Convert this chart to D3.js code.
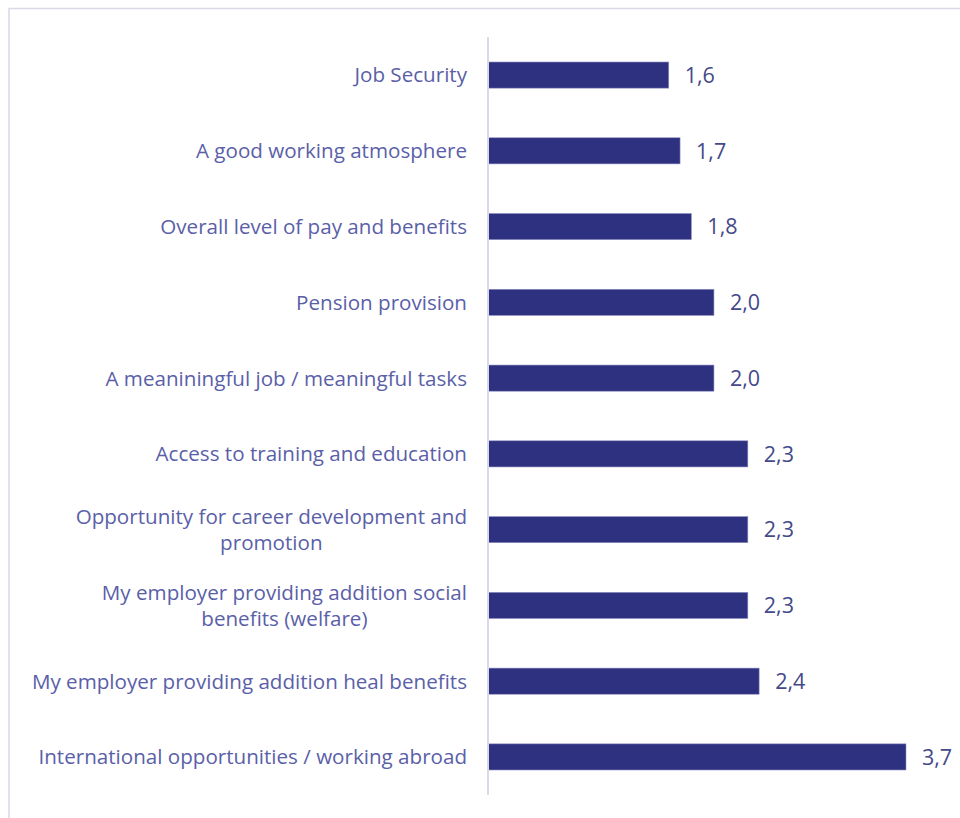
<!DOCTYPE html>
<html>
<head>
<meta charset="utf-8">
<script src="https://cdn.jsdelivr.net/npm/d3@7"></script>
<style>
  html, body { margin: 0; padding: 0; background: #fff; }
  svg { display: block; }
</style>
</head>
<body>
<svg id="chart" width="960" height="818"></svg>
<script>
// Factors rated, top to bottom, with their average scores
const categories = [
  "Job Security",
  "A good working atmosphere",
  "Overall level of pay and benefits",
  "Pension provision",
  "A meaniningful job / meaningful tasks",
  "Access to training and education",
  "Opportunity for career development and promotion",
  "My employer providing addition social benefits (welfare)",
  "My employer providing addition heal benefits",
  "International opportunities / working abroad"
];
const scores = [1.6, 1.7, 1.8, 2.0, 2.0, 2.3, 2.3, 2.3, 2.4, 3.7];
// Wrapped lines for the longer labels
const labelLines = [
  ["Job Security"],
  ["A good working atmosphere"],
  ["Overall level of pay and benefits"],
  ["Pension provision"],
  ["A meaniningful job / meaningful tasks"],
  ["Access to training and education"],
  ["Opportunity for career development and", "promotion"],
  ["My employer providing addition social", "benefits (welfare)"],
  ["My employer providing addition heal benefits"],
  ["International opportunities / working abroad"]
];

const svg = d3.select("#chart");
const W = 960, H = 818;
const fontFamily = "'Open Sans', 'Noto Sans', sans-serif";

// light frame round the chart area
svg.append("rect")
  .attr("x", 9).attr("y", 8.5)
  .attr("width", W + 10).attr("height", H + 10)
  .attr("fill", "none")
  .attr("stroke", "#d9d9ea")
  .attr("stroke-width", 1.5);

const axisX = 488;
const x = d3.scaleLinear().domain([0, 3.7]).range([axisX, 906]);
const y = d3.scaleBand().domain(categories).range([37, 795]).paddingInner(0.655).paddingOuter(0.33);

const g = svg.append("g");

g.selectAll("rect.bar")
  .data(categories)
  .join("rect")
  .attr("class", "bar")
  .attr("x", x(0))
  .attr("y", d => y(d))
  .attr("width", (d, i) => x(scores[i]) - x(0))
  .attr("height", y.bandwidth())
  .attr("fill", "#2e3080")
  .attr("stroke", "#8f91c0")
  .attr("stroke-width", 0.6);

// vertical category axis line
svg.append("line")
  .attr("x1", axisX).attr("x2", axisX)
  .attr("y1", 37).attr("y2", 795)
  .attr("stroke", "#d9d9ea")
  .attr("stroke-width", 2);

// value labels with comma decimal separator
const fmt = v => d3.format(".1f")(v).replace(".", ",");
g.selectAll("text.value")
  .data(categories)
  .join("text")
  .attr("class", "value")
  .attr("x", (d, i) => x(scores[i]) + 16)
  .attr("y", d => y(d) + y.bandwidth() / 2)
  .attr("dy", "0.36em")
  .attr("font-family", fontFamily)
  .attr("font-size", 21.5)
  .attr("fill", "#44498a")
  .text((d, i) => fmt(scores[i]));

// category labels, right-aligned; wrapped ones centred as a block
const lineH = 26;
const labels = g.selectAll("text.cat")
  .data(categories)
  .join("text")
  .attr("class", "cat")
  .attr("font-family", fontFamily)
  .attr("font-size", 20.6)
  .attr("fill", "#5a60a8")
  .attr("text-anchor", "end");

labels.each(function(d, i) {
  const lines = labelLines[i];
  const cy = y(d) + y.bandwidth() / 2;
  const t = d3.select(this);
  if (lines.length === 1) {
    t.append("tspan").attr("x", 467).attr("y", cy).attr("dy", "0.36em").text(lines[0]);
  } else {
    // multi-line labels: each line centred under the widest one
    const tmp = t.append("tspan").text(lines[0]);
    const wMax = this.getComputedTextLength();
    tmp.remove();
    const centerX = 467 - wMax / 2;
    t.attr("text-anchor", "middle");
    lines.forEach((ln, k) => {
      t.append("tspan")
        .attr("x", centerX)
        .attr("y", cy + (k - (lines.length - 1) / 2) * lineH)
        .attr("dy", "0.36em")
        .text(ln);
    });
  }
});
</script>
</body>
</html>
